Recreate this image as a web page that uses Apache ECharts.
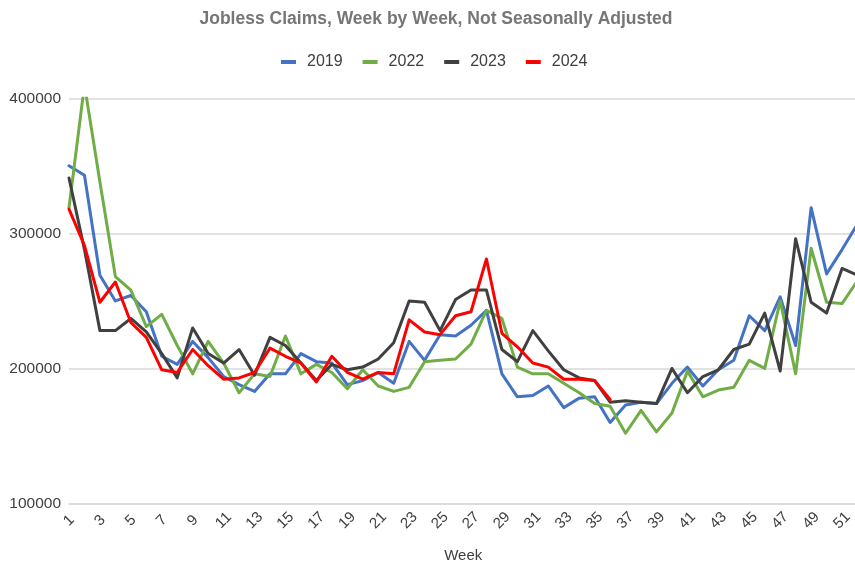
<!DOCTYPE html>
<html>
<head>
<meta charset="utf-8">
<script src="https://cdn.jsdelivr.net/npm/echarts@6/dist/echarts.min.js"></script>
<style>
html,body{margin:0;padding:0;background:#fff;}
#chart{width:855px;height:563px;}
</style>
</head>
<body>
<div id="chart"></div>
<script>
const chartTitle = "Jobless Claims, Week by Week, Not Seasonally Adjusted";
const xAxisName = "Week";
const seriesNames = ["2019", "2022", "2023", "2024"];
const weeks = [];
for (let i = 1; i <= 52; i++) weeks.push(String(i));

const s2019 = [350000,343000,269000,250000,254000,242000,209000,203000,220000,208000,
  194000,188000,183000,196000,196000,211000,205000,204000,188000,191000,
  197000,189000,220000,206000,225000,224000,232000,243000,196000,179000,
  180000,187000,171000,178000,179000,160000,173000,175000,174000,189000,
  201000,187000,199000,206000,239000,228000,253000,217000,319000,270000,
  288000,307000];
const s2022 = [319000,410000,338000,268000,258000,231000,240000,217000,196000,220000,
  204000,182000,196000,194000,224000,196000,203000,197000,185000,199000,
  187000,183000,186000,205000,206000,207000,218000,243000,237000,201000,
  196000,196000,189000,182000,174000,172000,152000,169000,153000,167000,
  198000,179000,184000,186000,206000,200000,250000,196000,289000,249000,
  248000,265000];
const s2023 = [341000,288000,228000,228000,237000,227000,211000,193000,230000,211000,
  204000,214000,195000,223000,217000,204000,191000,203000,199000,201000,
  207000,219000,250000,249000,228000,251000,258000,258000,214000,205000,
  228000,213000,199000,193000,191000,175000,176000,175000,174000,200000,
  182000,194000,199000,214000,218000,241000,198000,296000,249000,241000,
  274000,269000];
const s2024 = [318000,291000,249000,264000,234000,223000,199000,197000,214000,202000,
  192000,193000,197000,215000,209000,204000,190000,209000,197000,192000,
  197000,196000,236000,227000,225000,239000,242000,281000,226000,216000,
  204000,201000,192000,192000,191000,177000];
const yMin = 100000, yMax = 400000, yStep = 100000;
const colors = ["#4472C4", "#70AD47", "#404040", "#FF0000"];

const FONT = "Liberation Sans, Arial, sans-serif";
const chart = echarts.init(document.getElementById('chart'), null, {renderer: 'canvas'});
const allData = [s2019, s2022, s2023, s2024];

chart.setOption({
  animation: false,
  backgroundColor: '#ffffff',
  title: {
    text: chartTitle,
    left: 436,
    top: 10,
    textAlign: 'center',
    padding: 0,
    textStyle: {fontFamily: FONT, fontSize: 17.5, fontWeight: 'bold', color: '#767676'}
  },
  legend: {
    data: seriesNames,
    left: 281,
    top: 54,
    padding: 0,
    itemWidth: 15,
    itemHeight: 4,
    itemGap: 20,
    icon: 'rect',
    textStyle: {fontFamily: FONT, fontSize: 16, color: '#404040', padding: [0, 0, 0, 6]}
  },
  grid: {left: 69, right: -2.5, top: 98.3, bottom: 59.5, containLabel: false, outerBoundsMode: 'none'},
  xAxis: {
    type: 'category',
    data: weeks,
    boundaryGap: false,
    name: xAxisName,
    nameLocation: 'middle',
    nameGap: 45,
    nameTextStyle: {fontFamily: FONT, fontSize: 15, color: '#404040'},
    axisLine: {show: true, lineStyle: {color: '#d9d9d9', width: 1.5}},
    axisTick: {show: false},
    splitLine: {show: false},
    axisLabel: {
      interval: 1,
      rotate: 45,
      align: 'center',
      verticalAlign: 'middle',
      margin: 17,
      fontFamily: FONT,
      fontSize: 15,
      color: '#404040'
    }
  },
  yAxis: {
    type: 'value',
    min: yMin,
    max: yMax,
    interval: yStep,
    axisLine: {show: false},
    axisTick: {show: false},
    splitLine: {show: true, lineStyle: {color: '#d9d9d9', width: 1.5}},
    axisLabel: {fontFamily: FONT, fontSize: 15.5, color: '#404040', margin: 8,
      formatter: v => String(v)}
  },
  series: seriesNames.map((n, i) => ({
    name: n,
    type: 'line',
    data: allData[i],
    showSymbol: false,
    symbol: 'none',
    smooth: false,
    clip: true,
    color: colors[i],
    lineStyle: {color: colors[i], width: 3, join: 'round', cap: 'round'},
    itemStyle: {color: colors[i]},
    emphasis: {disabled: true}
  }))
});
</script>
</body>
</html>
